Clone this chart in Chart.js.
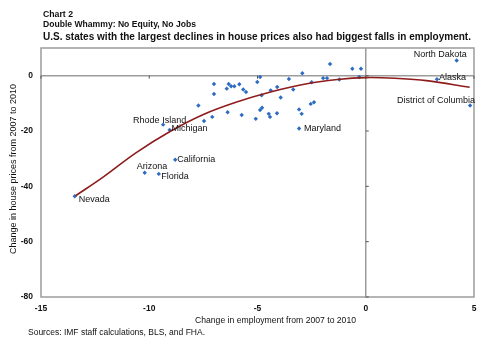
<!DOCTYPE html>
<html>
<head>
    <title>Chart 2 - Double Whammy</title>
    <script src="https://cdn.jsdelivr.net/npm/chart.js"></script>
    <style>
        body { margin: 0; background: #fff; }
    </style>
</head>
<body>
    <canvas id="myChart" width="493" height="360"></canvas>

    <script>
        // change in employment 2007-2010 (x) and house prices (y), one entry per state
        const empChange = [-13.44, -10.21, -9.56, -8.80, -9.36, -9.06, -7.73, -7.47, -7.09, -7.01,
            -7.01, -6.33, -6.42, -6.38, -6.22, -6.07, -5.84, -5.66, -5.53, -5.73,
            -5.08, -5.01, -4.88, -4.81, -4.79, -4.88, -4.48, -4.42, -4.39, -4.09,
            -4.10, -3.93, -3.55, -3.35, -3.08, -2.96, -3.08, -2.93, -2.54, -2.39,
            -2.50, -1.97, -1.79, -1.65, -1.22, -0.62, -0.30, -0.22, 4.20, 3.29, 4.82];
        const priceChange = [-43.6, -35.1, -35.5, -30.4, -17.7, -19.6, -10.8, -16.4, -14.9, -3.0,
            -6.6, -3.0, -4.7, -13.2, -3.8, -3.8, -3.1, -5.0, -5.9, -14.2,
            -15.6, -2.3, -0.5, -7.1, -11.6, -12.4, -13.8, -14.9, -5.3, -4.1,
            -13.6, -7.9, -1.2, -5.0, -12.2, -13.8, -19.1, 0.9, -10.2, -9.6,
            -2.4, -0.9, -0.9, 4.2, -1.4, 2.5, -0.5, 2.5, 5.5, -1.3, -10.8];
        const stateNames = ['Nevada', 'Arizona', 'Florida', 'California', 'Rhode Island', 'Michigan', '', '', '', '',
            '', '', '', '', '', '', '', '', '', '',
            '', '', '', '', '', '', '', '', '', '',
            '', '', '', '', '', '', 'Maryland', '', '', '',
            '', '', '', '', '', '', '', '', 'North Dakota', 'Alaska', 'District of Columbia'];

        // fitted trend curve
        const trendX = [-13.4, -12.1, -10.6, -9.0, -7.5, -6.0, -4.4, -2.9, -1.3, 0, 1.5, 2.8, 4.8];
        const trendY = [-43.4, -36.5, -27.8, -20.0, -14.0, -9.6, -5.9, -3.2, -1.4, -0.7, -1.0, -1.8, -4.2];

        const xTicks = [-15, -10, -5, 0, 5];
        const yTicks = [-80, -60, -40, -20, 0];

        const FONT = "'Liberation Sans', Arial, sans-serif";

        // where each state name sits next to its point (left edge / vertical middle)
        const labelOffset = {
            'Nevada': [4, 3],
            'Arizona': [-8, -6],
            'Florida': [2.5, 3],
            'California': [2, 0],
            'Rhode Island': [-30, -4],
            'Michigan': [2, -1],
            'Maryland': [5, 0],
            'North Dakota': [-43, -6],
            'Alaska': [2, -2],
            'District of Columbia': [-73, -5]
        };

        const decor = {
            id: 'decor',
            beforeDatasetsDraw(chart) {
                const { ctx, chartArea: a, scales: { x, y } } = chart;
                const x0 = x.getPixelForValue(0);
                const y0 = y.getPixelForValue(0);
                ctx.save();
                ctx.strokeStyle = '#9c9c9c';
                ctx.lineWidth = 1.5;
                ctx.strokeRect(a.left, a.top, a.right - a.left, a.bottom - a.top);
                ctx.beginPath();
                ctx.moveTo(a.left, y0); ctx.lineTo(a.right, y0);
                ctx.moveTo(x0, a.top); ctx.lineTo(x0, a.bottom);
                ctx.stroke();
                // little tick marks on the zero axes
                ctx.strokeStyle = '#555';
                ctx.lineWidth = 1;
                ctx.beginPath();
                xTicks.forEach(v => {
                    const px = x.getPixelForValue(v);
                    ctx.moveTo(px, y0); ctx.lineTo(px, y0 + 3);
                });
                yTicks.forEach(v => {
                    const py = y.getPixelForValue(v);
                    ctx.moveTo(x0, py); ctx.lineTo(x0 + 3, py);
                });
                ctx.stroke();
                ctx.restore();
            },
            afterDatasetsDraw(chart) {
                const { ctx } = chart;
                const meta = chart.getDatasetMeta(1);
                ctx.save();
                ctx.fillStyle = '#111';
                ctx.font = '9px ' + FONT;
                ctx.textBaseline = 'middle';
                ctx.textAlign = 'left';
                stateNames.forEach((name, i) => {
                    if (!name) return;
                    const pt = meta.data[i];
                    const off = labelOffset[name] || [3, 0];
                    ctx.fillText(name, pt.x + off[0], pt.y + off[1]);
                });
                ctx.restore();
            },
            afterDraw(chart) {
                const { ctx } = chart;
                ctx.save();
                ctx.fillStyle = '#111';
                ctx.textBaseline = 'middle';
                ctx.textAlign = 'left';
                ctx.font = 'bold 9px ' + FONT;
                ctx.fillText('Chart 2', 43, 15, 30);
                ctx.fillText('Double Whammy: No Equity, No Jobs', 43, 25, 153);
                ctx.font = 'bold 11px ' + FONT;
                ctx.fillText('U.S. states with the largest declines in house prices also had biggest falls in employment.', 43, 36.5, 428);

                ctx.font = '9px ' + FONT;
                ctx.textAlign = 'center';
                ctx.fillText('Change in employment from 2007 to 2010', 275.5, 321, 161);
                ctx.textAlign = 'left';
                ctx.font = '8.5px ' + FONT;
                ctx.fillText('Sources: IMF staff calculations, BLS, and FHA.', 28, 333, 187);

                ctx.translate(14, 169);
                ctx.rotate(-Math.PI / 2);
                ctx.textAlign = 'center';
                ctx.font = '9px ' + FONT;
                ctx.fillText('Change in house prices from 2007 to 2010', 0, 0, 172);
                ctx.restore();
            }
        };

        window.addEventListener('load', function () {
            const ctx = document.getElementById('myChart').getContext('2d');

            const statePoints = empChange.map((v, i) => ({ x: v, y: priceChange[i] }));
            const trendPoints = trendX.map((v, i) => ({ x: v, y: trendY[i] }));

            const myChart = new Chart(ctx, {
                type: 'scatter',
                data: {
                    datasets: [{
                        label: 'Trend',
                        data: trendPoints,
                        showLine: true,
                        borderColor: '#8e1c1c',
                        borderWidth: 1.6,
                        pointRadius: 0,
                        tension: 0.4,
                        fill: false
                    }, {
                        label: 'States',
                        data: statePoints,
                        pointStyle: 'rectRot',
                        pointRadius: 2.2,
                        backgroundColor: '#2d6cc0',
                        borderColor: '#2d6cc0',
                        borderWidth: 0
                    }]
                },
                options: {
                    responsive: false,
                    animation: false,
                    layout: { padding: { top: 48, right: 19, left: 0, bottom: 0 } },
                    plugins: {
                        legend: { display: false },
                        tooltip: { enabled: false }
                    },
                    scales: {
                        x: {
                            type: 'linear',
                            min: -15,
                            max: 5,
                            afterBuildTicks: s => { s.ticks = xTicks.map(v => ({ value: v })); },
                            afterFit: s => { s.height = 63; },
                            grid: { display: false, drawTicks: false },
                            border: { display: false },
                            ticks: {
                                padding: 7,
                                color: '#111',
                                font: { family: FONT, size: 8.5, weight: 'bold' },
                                maxRotation: 0
                            }
                        },
                        y: {
                            min: -80,
                            max: 10,
                            afterBuildTicks: s => { s.ticks = yTicks.map(v => ({ value: v })); },
                            afterFit: s => { s.width = 41; },
                            grid: { display: false, drawTicks: false },
                            border: { display: false },
                            ticks: {
                                padding: 8,
                                color: '#111',
                                font: { family: FONT, size: 8.5, weight: 'bold' }
                            }
                        }
                    }
                },
                plugins: [decor]
            });
        });
    </script>
</body>
</html>
